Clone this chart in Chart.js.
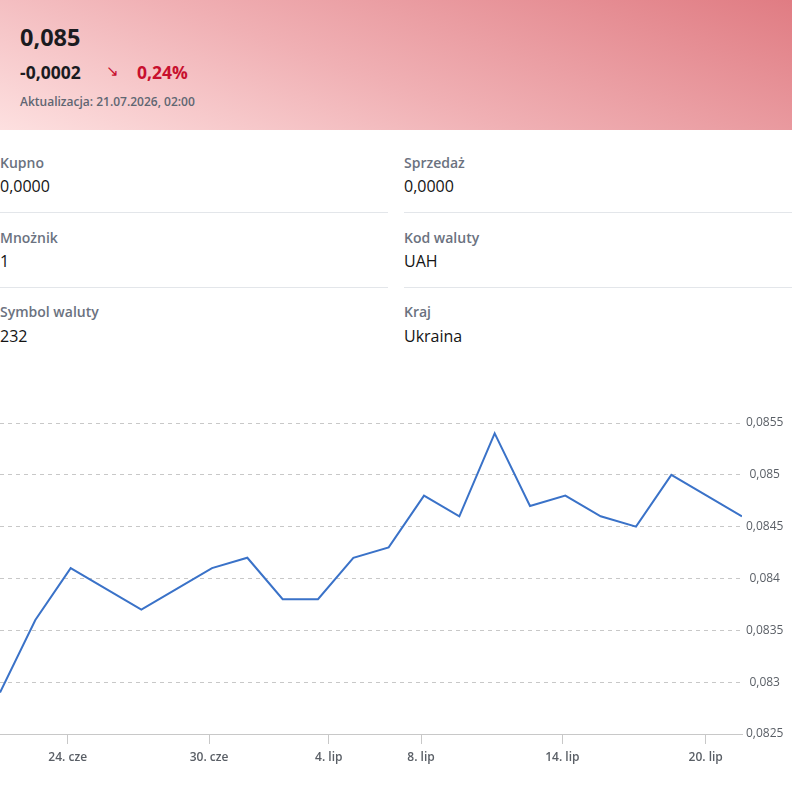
<!DOCTYPE html>
<html lang="pl">
<head>
<meta charset="utf-8">
<script src="https://cdn.jsdelivr.net/npm/chart.js@4.4.1/dist/chart.umd.min.js"></script>
<style>
  html, body { margin: 0; padding: 0; background: #fff; }
  body { width: 792px; height: 790px; position: relative; overflow: hidden; font-family: "Open Sans", sans-serif; }
  .head {
    position: absolute; left: 0; top: 0; width: 792px; height: 130px;
    background: linear-gradient(20deg, #fde0e0 0%, #f0b0b4 45%, #e07c83 100%);
  }
  .price { position: absolute; left: 20px; top: 21px; font-size: 23.5px; font-weight: 700; color: #1b1b1f; }
  .chg { position: absolute; left: 20px; top: 60px; font-size: 17.5px; font-weight: 700; color: #1b1b1f; }
  .arrow { position: absolute; left: 106px; top: 60px; font-size: 15px; color: #c8102e; }
  .pct { position: absolute; left: 137px; top: 60px; font-size: 17.5px; font-weight: 700; color: #c8102e; }
  .upd { position: absolute; left: 20px; top: 93px; font-size: 12px; font-weight: 600; color: #606672; }
  .lbl, .val { position: absolute; white-space: nowrap; }
  .lbl { font-size: 14px; font-weight: 600; color: #6b7280; }
  .val { font-size: 16px; color: #141414; }
  .sep { position: absolute; height: 1px; background: #e3e6ea; width: 388px; }
  #wrap { position: absolute; left: 0; top: 400px; width: 792px; height: 390px; }
</style>
</head>
<body>
<div class="head">
  <div class="price">0,085</div>
  <div class="chg">-0,0002</div>
  <div class="arrow">&#8600;</div>
  <div class="pct">0,24%</div>
  <div class="upd">Aktualizacja: 21.07.2026, 02:00</div>
</div>

<div class="lbl" style="left:0;top:153px">Kupno</div>
<div class="val" style="left:0;top:175px">0,0000</div>
<div class="lbl" style="left:404px;top:153px">Sprzedaż</div>
<div class="val" style="left:404px;top:175px">0,0000</div>
<div class="sep" style="left:0;top:212px"></div>
<div class="sep" style="left:404px;top:212px"></div>

<div class="lbl" style="left:0;top:228px">Mnożnik</div>
<div class="val" style="left:0;top:250px">1</div>
<div class="lbl" style="left:404px;top:228px">Kod waluty</div>
<div class="val" style="left:404px;top:250px">UAH</div>
<div class="sep" style="left:0;top:287px"></div>
<div class="sep" style="left:404px;top:287px"></div>

<div class="lbl" style="left:0;top:302px">Symbol waluty</div>
<div class="val" style="left:0;top:325px">232</div>
<div class="lbl" style="left:404px;top:302px">Kraj</div>
<div class="val" style="left:404px;top:325px">Ukraina</div>

<div id="wrap"><canvas id="rateChart"></canvas></div>

<script>
// Kurs UAH - notowania z dni roboczych (publikowane o 02:00)
const dates = [
  '2026-06-22', '2026-06-23', '2026-06-24', '2026-06-25', '2026-06-26',
  '2026-06-29', '2026-06-30', '2026-07-01', '2026-07-02', '2026-07-03',
  '2026-07-06', '2026-07-07', '2026-07-08', '2026-07-09', '2026-07-10',
  '2026-07-13', '2026-07-14', '2026-07-15', '2026-07-16', '2026-07-17',
  '2026-07-20', '2026-07-21'
];
const rates = [
  0.0829, 0.0836, 0.0841, 0.0839, 0.0837,
  0.0839, 0.0841, 0.0842, 0.0838, 0.0838,
  0.0842, 0.0843, 0.0848, 0.0846, 0.0854,
  0.0847, 0.0848, 0.0846, 0.0845, 0.0850,
  0.0848, 0.0846
];
const tickDates = ['2026-06-24', '2026-06-30', '2026-07-04', '2026-07-08', '2026-07-14', '2026-07-20'];
const tickLabels = ['24. cze', '30. cze', '4. lip', '8. lip', '14. lip', '20. lip'];
const yTicks = [0.0825, 0.083, 0.0835, 0.084, 0.0845, 0.085, 0.0855];

// weekends are skipped, so x is the session index; ticks sit at midnight
const times = dates.map(d => Date.parse(d + 'T02:00:00Z'));
function ordinalPos(d) {
  const t = Date.parse(d + 'T00:00:00Z');
  for (let i = 0; i < times.length - 1; i++) {
    if (t >= times[i] && t <= times[i + 1]) {
      return i + (t - times[i]) / (times[i + 1] - times[i]);
    }
  }
  return times.length - 1;
}
const tickPos = tickDates.map(ordinalPos);

const fmt = v => String(+v.toFixed(5)).replace('.', ',');

Chart.defaults.font.family = '"Open Sans", sans-serif';
Chart.defaults.font.size = 12;
Chart.defaults.color = '#555b63';

const ctx = document.getElementById('rateChart').getContext('2d');
new Chart(ctx, {
  type: 'line',
  data: {
    datasets: [{
      data: rates.map((r, i) => ({ x: i, y: r })),
      borderColor: '#3a72c8',
      borderWidth: 2,
      pointRadius: 0,
      tension: 0,
      fill: false
    }]
  },
  options: {
    responsive: true,
    maintainAspectRatio: false,
    animation: false,
    layout: { padding: { top: 23, left: 0, right: 0, bottom: 0 } },
    plugins: { legend: { display: false }, tooltip: { enabled: false } },
    scales: {
      x: {
        type: 'linear',
        min: 0,
        max: dates.length - 1,
        afterBuildTicks: s => { s.ticks = tickPos.map(v => ({ value: v })); },
        afterFit: s => { s.height = 56; },
        grid: { display: true, drawOnChartArea: false, drawTicks: true, tickLength: 10, color: '#c8c8c8' },
        border: { display: true, color: '#c8c8c8', width: 1 },
        ticks: {
          autoSkip: false,
          maxRotation: 0,
          padding: 6,
          color: '#5a5f66',
          font: { size: 12, weight: '600' },
          callback: (v, i) => tickLabels[i]
        }
      },
      y: {
        position: 'right',
        min: 0.0825,
        max: 0.0855,
        afterBuildTicks: s => { s.ticks = yTicks.map(v => ({ value: v })); },
        afterFit: s => { s.width = 50; },
        grid: { color: '#c8c8c8', drawTicks: false },
        border: { display: false, dash: [4, 4] },
        ticks: {
          crossAlign: 'center',
          padding: 4,
          color: '#5a5f66',
          font: { size: 12 },
          callback: v => fmt(v)
        }
      }
    }
  }
});
</script>
</body>
</html>
